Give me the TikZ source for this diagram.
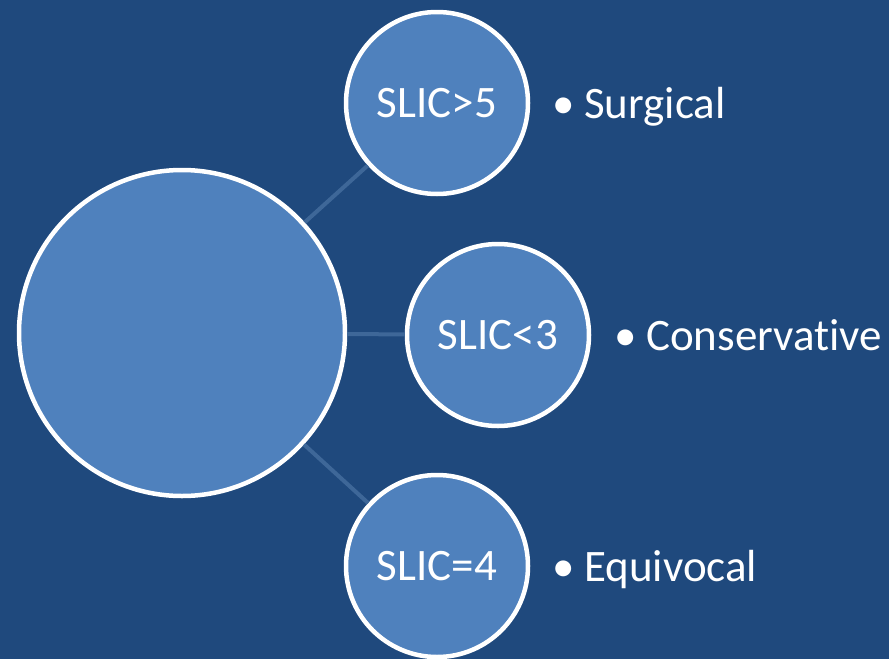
\documentclass[tikz,border=0pt]{standalone}
\usepackage{fontspec}
\setmainfont[Ligatures=NoCommon]{Carlito}
\definecolor{bgblue}{HTML}{1F497D}
\definecolor{circblue}{HTML}{4F81BD}
\definecolor{linkblue}{RGB}{62,103,152}
\begin{document}
\begin{tikzpicture}[x=1pt,y=-1pt,
  bubble/.style={circle,draw=white,line width=4.5pt,fill=circblue,text=white,font=\fontsize{45}{50}\selectfont,inner sep=0pt},
  bigbubble/.style={bubble,minimum size=326pt},
  smallbubble/.style={bubble,minimum size=182pt},
  link/.style={draw=linkblue,line width=4pt},
  label/.style={anchor=base west,text=white,font=\fontsize{45}{50}\selectfont,inner sep=0pt}]
\fill[bgblue] (0,0) rectangle (889,659);
\useasboundingbox (0,0) rectangle (889,659);
\node[bigbubble] (big) at (182,333) {};
\node[smallbubble] (top) at (437,103) {SLIC>5};
\node[smallbubble] (mid) at (498,335) {SLIC<3};
\node[smallbubble] (bot) at (437,566) {SLIC=4};
\draw[link] (big) -- (top);
\draw[link] (big) -- (mid);
\draw[link] (big) -- (bot);
\node[label] (lt) at (552,118) {\makebox[32pt][l]{\textbullet}Surgical};
\node[label] (lm) at (614,350) {\makebox[32pt][l]{\textbullet}Conservative};
\node[label] (lb) at (552,581) {\makebox[32pt][l]{\textbullet}Equivocal};
\end{tikzpicture}
\end{document}
